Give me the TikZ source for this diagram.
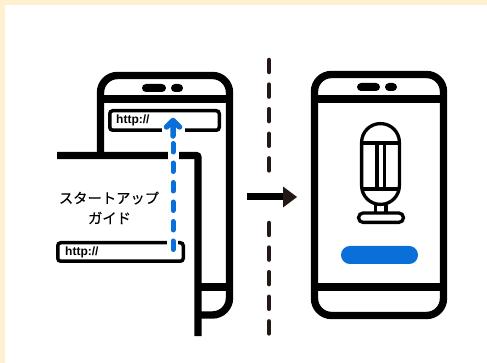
\documentclass[tikz,border=0pt]{standalone}
\usepackage{fontspec}
\setmainfont{Liberation Sans}
\newfontfamily\jpfont[FakeBold=0.25]{Noto Sans CJK JP}
\definecolor{creamedge}{HTML}{FFF1CF}
\definecolor{inkdark}{HTML}{231815}
\definecolor{linkblue}{HTML}{0A6FD8}
\usetikzlibrary{arrows.meta}

\begin{document}
\begin{tikzpicture}[x=1pt,y=-1pt,
		phone line/.style = {draw=black,line width=7.4pt},
		url box/.style = {draw=black,line width=3.5pt,rounded corners=3pt},
		url text/.style = {inner sep=0pt,anchor=west,font=\bfseries\fontsize{12}{12}\selectfont},
		pill/.style = {fill=black,rounded corners=4pt},
		mic line/.style = {draw=black,line width=3.3pt},
		guide text/.style = {inner sep=0pt,font=\jpfont\fontsize{14.3}{14.3}\selectfont},
		divider/.style = {draw=inkdark,line width=4.5pt,line cap=round,dash pattern=on 12pt off 12.6pt}]
		
		\useasboundingbox (0,0) rectangle (487,363);
		\fill[white] (0,0) rectangle (487,363);
		\fill[creamedge] (0,0) rectangle (487,5);
		\fill[creamedge] (0,0) rectangle (5,363);
		
		% left phone
		\draw[phone line,rounded corners=17pt] (100.5,75.5) rectangle (229.5,315);
		\draw[phone line] (100.5,99) -- (229.5,99);
		\draw[phone line] (198,287) -- (229.5,287);
		\fill[pill] (142,84) rectangle (166,92);
		\fill[pill] (171,84) rectangle (183,92);
		\draw[url box] (109.75,110.75) rectangle (219.25,130.25);
		\node[url text] (url1) at (116,120) {http://};
		
		% guide sheet
		\fill[white] (50,155.5) rectangle (198,345);
		\coordinate (sheet1) at (57,155.5);
		\coordinate (sheet2) at (198,155.5);
		\coordinate (sheet3) at (198,336);
		\draw[phone line,rounded corners=2pt] (sheet1)--(sheet2)--(sheet3);
		\node[guide text] (guide1) at (109,198) {スタートアップ};
		\node[guide text] (guide2) at (109.5,218) {ガイド};
		\draw[url box] (57.75,242.75) rectangle (183.25,261.25);
		\node[url text] (url2) at (65,252) {http://};
		
		% blue link arrow, with white gaps in the lines it crosses
		\fill[white] (162,126) rectangle (185,134);
		\fill[white] (168,150) rectangle (179,160);
		\fill[white] (167,238) rectangle (178,246);
		\coordinate (link1) at (173,249.5);
		\coordinate (link2) at (173,143.5);
		\coordinate (link3) at (173,136);
		\coordinate (link4) at (173,120.5);
		\draw[linkblue,line width=5pt,line cap=round,dash pattern=on 8.5pt off 11pt] (link1)--(link2);
		\draw[linkblue,line width=5.5pt,line cap=round,line join=round] (link3)--(link4) (166.5,127)--(link4)--(179.5,127);
		
		% divider and arrow
		\coordinate (div1) at (269,60);
		\coordinate (div2) at (269,172);
		\coordinate (div3) at (269,223);
		\coordinate (div4) at (269,336);
		\draw[divider] (div1)--(div2);
		\draw[divider] (div3)--(div4);
		\coordinate (go1) at (247,197);
		\coordinate (go2) at (297,197);
		\draw[draw=black,line width=7pt,-{Triangle[color=inkdark,length=14pt,width=21pt,line width=0pt]}] (go1)--(go2);
		
		% right phone
		\draw[phone line,rounded corners=17pt] (314.5,74.5) rectangle (443.5,315.5);
		\draw[phone line] (314.5,99) -- (443.5,99);
		\draw[phone line] (314.5,287) -- (443.5,287);
		\fill[pill] (357,83) rectangle (380,91);
		\fill[pill] (385,83) rectangle (397,91);
		
		% microphone
		\draw[mic line,rounded corners=18.8pt] (361.6,123.6) rectangle (399.4,204.4);
		\draw[mic line] (361.6,143) -- (399.4,143);
		\draw[mic line] (361.6,189) -- (399.4,189);
		\draw[mic line] (377,143) -- (377,189);
		\draw[mic line] (384.5,143) -- (384.5,189);
		\draw[mic line] (375.5,205) -- (375.5,213);
		\draw[mic line] (386,205) -- (386,213);
		\draw[mic line,rounded corners=4.5pt] (358.6,213) rectangle (403.4,222.4);
		
		% start button
		\fill[linkblue,rounded corners=8.9pt] (341,246) rectangle (418,264);
		\end{tikzpicture}
\end{document}
